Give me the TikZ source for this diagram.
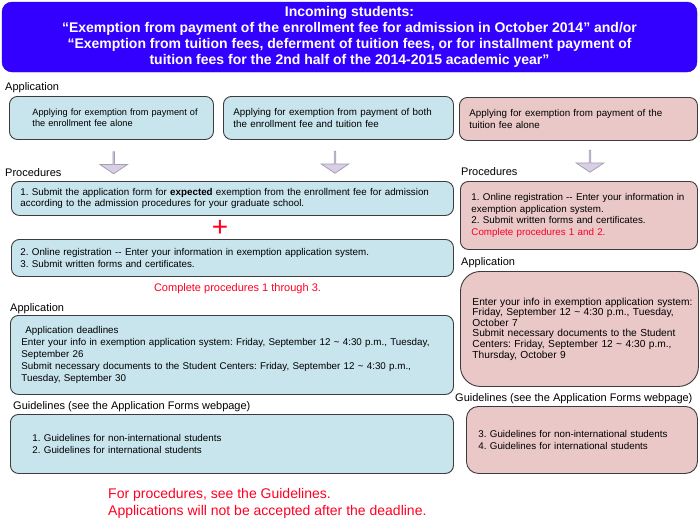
\documentclass[tikz,border=0pt]{standalone}
\usepackage{fontspec}
\setmainfont{Liberation Sans}
\usetikzlibrary{shapes.arrows, positioning}
\definecolor{titleblue}{RGB}{51, 0, 255}
\definecolor{boxblue}{RGB}{200, 228, 236}
\definecolor{boxpink}{RGB}{234, 200, 200}
\definecolor{boxline}{RGB}{60, 60, 60}
\definecolor{arrowlilac}{RGB}{216, 206, 230}
\definecolor{arrowline}{RGB}{165, 160, 175}
\definecolor{notered}{RGB}{255, 0, 34}
\newcommand{\bodyfont}{\fontsize{9.8}{11.6}\selectfont}
\frenchspacing

\tikzset{
  banner/.style={fill=titleblue, draw=titleblue!80!black, rounded corners=10pt, text=white, align=center,
    minimum width=695pt, minimum height=70pt, font=\bfseries\fontsize{14}{16.2}\selectfont},
  infobox/.style={draw=boxline, line width=0.9pt, rounded corners=8pt, anchor=north west, align=left,
    inner ysep=0pt, font=\bodyfont},
  bluebox/.style={infobox, fill=boxblue},
  pinkbox/.style={infobox, fill=boxpink},
  boxsize/.style n args={3}{minimum width=#1, minimum height=#2, inner xsep=#3, text width=#1-2*#3},
  textindent/.style={execute at begin node={\leftskip=#1\relax}},
  heading/.style={anchor=base west, inner sep=0pt, font=\fontsize{11}{13}\selectfont},
  rednote/.style={text=notered, inner sep=0pt},
  downarrow/.style={single arrow, draw=arrowline, fill=arrowlilac, line width=0.8pt, shape border rotate=270,
    minimum height=22pt, minimum width=27.7pt, single arrow head extend=7pt, single arrow tip angle=112, inner sep=0pt}
}

\begin{document}
\begin{tikzpicture}[x=1pt, y=-1pt]
  \useasboundingbox (0,0) rectangle (700,520);

  % title
  \node[banner] (title) at (349.5,37) {Incoming students:\\
    “Exemption from payment of the enrollment fee for admission in October 2014” and/or\\
    “Exemption from tuition fees, deferment of tuition fees, or for installment payment of\\
    tuition fees for the 2nd half of the 2014-2015 academic year”};

  % application
  \node[heading] (apphead) at (5,90) {Application};
  \node[bluebox, boxsize={204pt}{43pt}{6pt}, textindent=17pt, font=\fontsize{9.2}{11.2}\selectfont] (enrollonly) at (9,96)
    {Applying for exemption from payment of\\the enrollment fee alone};
  \node[bluebox, boxsize={230pt}{43pt}{10pt}] (bothfees) at (223,96)
    {Applying for exemption from payment of both\\the enrollment fee and tuition fee};
  \node[pinkbox, boxsize={238pt}{43pt}{10pt}] (tuitiononly) at (459,97)
    {Applying for exemption from payment of the\\tuition fee alone};

  \node[downarrow] (arrowenroll) at (113.7,162.5) {};
  \node[downarrow] (arrowboth) at (335,162) {};
  \node[downarrow] (arrowtuition) at (590,161) {};

  % procedures
  \node[heading] (prochead) at (5,176) {Procedures};
  \node[bluebox, boxsize={442pt}{34pt}{9pt}] (procform) at (11,181)
    {1. Submit the application form for \textbf{expected} exemption from the enrollment fee for admission\\
     according to the admission procedures for your graduate school.};
  \node[rednote, font=\fontsize{28}{28}\selectfont] (plus) at (220,228) {+};
  \node[bluebox, boxsize={442pt}{37pt}{9pt}] (proconline) at (11,239)
    {2. Online registration -{}- Enter your information in exemption application system.\\
     3. Submit written forms and certificates.};
  \node[rednote, anchor=base, font=\fontsize{11}{13}\selectfont] (allthree) at (237.5,291)
    {Complete procedures 1 through 3.};

  \node[heading] (prochead2) at (461,175) {Procedures};
  \node[pinkbox, boxsize={237pt}{68pt}{10pt}, textindent=1pt] (proctuition) at (460,181)
    {1. Online registration -{}- Enter your information in\\
     exemption application system.\\
     2. Submit written forms and certificates.\\
     \textcolor{notered}{Complete procedures 1 and 2.}};

  % deadlines
  \node[heading] (apphead2) at (10,311) {Application};
  \node[bluebox, boxsize={443pt}{79pt}{11pt}, font=\fontsize{9.8}{12}\selectfont] (deadlines) at (10,315)
    {\hspace*{4pt}Application deadlines\\
     Enter your info in exemption application system: Friday, September 12 \textasciitilde{} 4:30 p.m., Tuesday,\\
     September 26\\
     Submit necessary documents to the Student Centers: Friday, September 12 \textasciitilde{} 4:30 p.m.,\\
     Tuesday, September 30};

  \node[heading] (apphead3) at (461,265) {Application};
  \node[pinkbox, boxsize={238pt}{115pt}{0pt}, textindent=12pt, rounded corners=20pt,
    font=\fontsize{10.2}{10.6}\selectfont] (deadlines2) at (460,271)
    {Enter your info in exemption application system:\\
     Friday, September 12 \textasciitilde{} 4:30 p.m., Tuesday,\\
     October 7\\
     Submit necessary documents to the Student\\
     Centers: Friday, September 12 \textasciitilde{} 4:30 p.m.,\\
     Thursday, October 9};

  % guidelines
  \node[heading] (guidehead) at (13,409) {Guidelines (see the Application Forms webpage)};
  \node[bluebox, boxsize={443pt}{59pt}{22pt}] (guides) at (10,414)
    {1. Guidelines for non-international students\\
     2. Guidelines for international students};

  \node[heading] (guidehead2) at (455,401) {Guidelines (see the Application Forms webpage)};
  \node[pinkbox, boxsize={231pt}{67pt}{12pt}, rounded corners=12pt] (guides2) at (466,406)
    {3. Guidelines for non-international students\\
     4. Guidelines for international students};

  \node[rednote, anchor=west, align=left, font=\fontsize{14}{17}\selectfont] (finalnote) at (108,503)
    {For procedures, see the Guidelines.\\Applications will not be accepted after the deadline.};
\end{tikzpicture}
\end{document}
